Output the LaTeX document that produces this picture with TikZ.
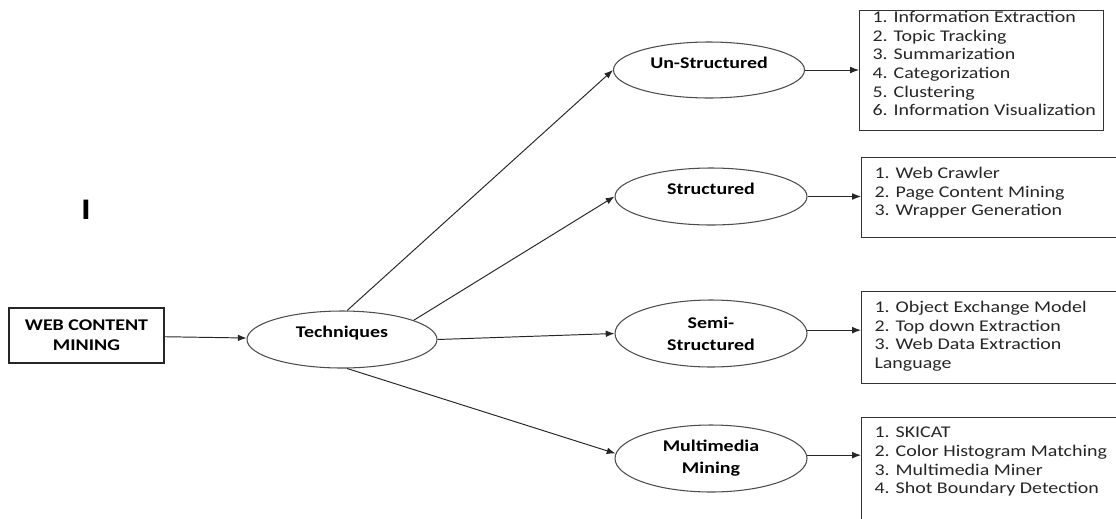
\documentclass[tikz,border=0pt]{standalone}
\usepackage{fontspec}
\setmainfont[FakeStretch=1.22]{Carlito}
\usetikzlibrary{arrows.meta,shapes.geometric}

\begin{document}
\begin{tikzpicture}[>={Latex[length=5pt,width=3.8pt]},
  oval/.style={ellipse,draw=black!70,line width=0.6pt,minimum width=3.84cm,inner sep=0pt,align=center,font=\fontsize{9.3}{12.5}\selectfont\bfseries},
  listbox/.style={draw=black!80,line width=0.6pt,anchor=north west,inner xsep=0.13cm,inner ysep=0.19cm,text=black!85,font=\fontsize{9.3}{10.64}\selectfont},
  link/.style={->,black!85,line width=0.55pt}]
\clip (0cm,0cm) rectangle (22.32cm,-10.36cm);
% start box and the hub
\node[draw=black!85,line width=0.8pt,minimum width=3.1cm,minimum height=1.1cm,align=center,font=\fontsize{9.3}{11.4}\selectfont\bfseries] (wcm) at (1.73cm,-6.71cm) {WEB CONTENT\\MINING};
\node[oval,minimum width=3.8cm,minimum height=1.14cm,text depth=0.3cm] (tech) at (6.84cm,-6.79cm) {Techniques};
\node[font=\fontsize{17}{17}\selectfont\bfseries] (mark) at (1.72cm,-4.2cm) {I};
% the four kinds
\node[oval,minimum width=3.82cm,minimum height=1.12cm,text depth=0.3cm] (uns) at (14.18cm,-1.40cm) {Un-Structured};
\node[oval,minimum height=1.14cm,text depth=0.3cm] (str) at (14.22cm,-3.93cm) {Structured};
\node[oval,minimum height=1.34cm] (semi) at (14.22cm,-6.67cm) {Semi-\\Structured};
\node[oval,minimum height=1.34cm] (mm) at (14.22cm,-9.17cm) {Multimedia\\Mining};
% lists
\node[listbox,inner ysep=0.01cm] (list1) at (17.18cm,-0.20cm) {\parbox[t][2.38cm][t]{4.62cm}{\raggedright\leftskip=0.13cm
1. Information Extraction\\2. Topic Tracking\\3. Summarization\\4. Categorization\\5. Clustering\\6. Information Visualization}};
\node[listbox] (list2) at (17.22cm,-3.14cm) {\parbox[t][1.22cm][t]{4.92cm}{\raggedright\leftskip=0.13cm
1. Web Crawler\\2. Page Content Mining\\3. Wrapper Generation}};
\node[listbox] (list3) at (17.22cm,-5.82cm) {\parbox[t][1.46cm][t]{4.92cm}{\raggedright\leftskip=0.13cm
1. Object Exchange Model\\2. Top down Extraction\\3. Web Data Extraction\\Language}};
\node[listbox] (list4) at (17.22cm,-8.34cm) {\parbox[t][1.78cm][t]{4.92cm}{\raggedright\leftskip=0.13cm
1. SKICAT\\2. Color Histogram Matching\\3. Multimedia Miner\\4. Shot Boundary Detection}};
% connectors
\draw[link] (wcm) -- (tech);
\draw[link] (tech.80) -- (uns.west);
\draw[link] (tech.15) -- (str.west);
\draw[link] (tech.east) -- (semi.west);
\draw[link] (tech.-80) -- (mm.177);
\draw[link] (uns.east) -- (uns.east -| list1.west);
\draw[link] (str.east) -- (str.east -| list2.west);
\draw[link] (semi.2) -- (semi.2 -| list3.west);
\draw[link] (mm.2) -- (mm.2 -| list4.west);
\end{tikzpicture}
\end{document}
